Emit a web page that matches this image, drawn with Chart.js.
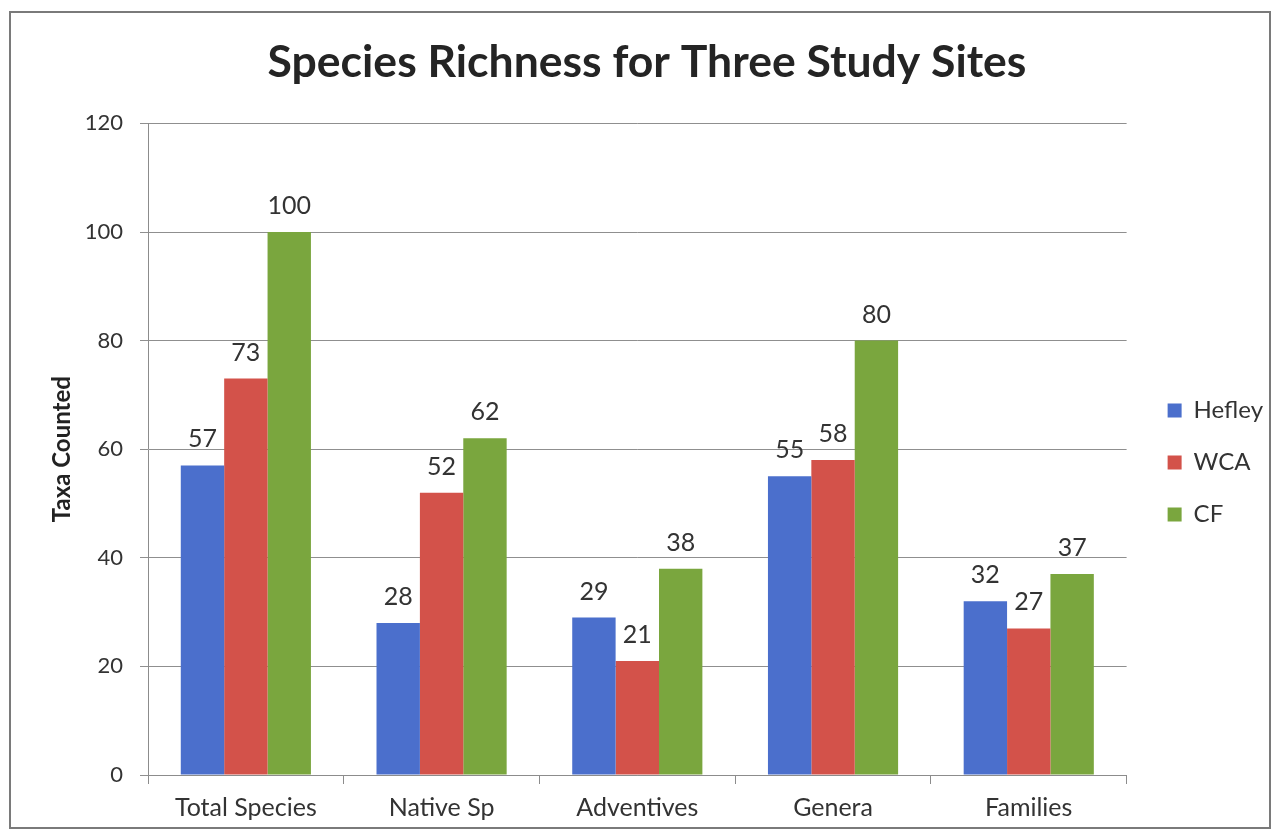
<!DOCTYPE html>
<html>
<head>
<meta charset="utf-8">
<title>Species Richness for Three Study Sites</title>
<script src="https://cdn.jsdelivr.net/npm/chart.js@4.4.1/dist/chart.umd.min.js"></script>
<style>
    html, body { margin: 0; padding: 0; background: #fff; }
    #wrap { position: relative; width: 1276px; height: 836px; }
    #frame { position: absolute; left: 9px; top: 11px; width: 1262px; height: 818px; border: 2px solid #7a7a7a; box-sizing: border-box; pointer-events: none; }
</style>
</head>
<body>
<div id="wrap">
    <canvas id="chart"></canvas>
    <div id="frame"></div>
</div>
<script>
var categories = ['Total Species', 'Native Sp', 'Adventives', 'Genera', 'Families'];
var hefley = [57, 28, 29, 55, 32];
var wca = [73, 52, 21, 58, 27];
var cf = [100, 62, 38, 80, 37];
var yTicks = [0, 20, 40, 60, 80, 100, 120];

var FONT = 'Lato, "Open Sans", sans-serif';

// value printed above each bar
var barLabels = {
    id: 'barLabels',
    afterDatasetsDraw: function (chart) {
        var ctx = chart.ctx;
        ctx.save();
        ctx.font = '25px ' + FONT;
        ctx.fillStyle = '#333';
        ctx.textAlign = 'center';
        ctx.textBaseline = 'alphabetic';
        chart.data.datasets.forEach(function (ds, i) {
            chart.getDatasetMeta(i).data.forEach(function (bar, j) {
                ctx.fillText(ds.data[j], bar.x, bar.y - 18);
            });
        });
        ctx.restore();
    }
};

// shift legend and title a bit from where the layout puts them
var blockNudge = {
    id: 'blockNudge',
    afterLayout: function (chart) {
        var lg = chart.legend;
        lg.left += 13; lg.right += 13;
        lg.top += 44; lg.bottom += 44;
        var tb = chart.titleBlock;
        tb.left += 12; tb.right += 12;
    }
};

var ctx = document.getElementById('chart').getContext('2d');
new Chart(ctx, {
    type: 'bar',
    data: {
        labels: categories,
        datasets: [
            { label: 'Hefley', data: hefley, backgroundColor: '#4b6fcc' },
            { label: 'WCA', data: wca, backgroundColor: '#d3524a' },
            { label: 'CF', data: cf, backgroundColor: '#7aa63e' }
        ]
    },
    options: {
        responsive: true,
        maintainAspectRatio: false,
        animation: false,
        datasets: {
            bar: { categoryPercentage: 0.665, barPercentage: 1.0 }
        },
        layout: { padding: { left: 10, right: 16, top: 12, bottom: 11 } },
        plugins: {
            title: {
                display: true,
                text: 'Species Richness for Three Study Sites',
                color: '#242424',
                font: { family: FONT, size: 44.5, weight: 'bold' },
                padding: { top: 24, bottom: 34 }
            },
            legend: {
                position: 'right',
                labels: {
                    boxWidth: 14,
                    boxHeight: 14,
                    padding: 28,
                    color: '#333',
                    font: { family: FONT, size: 24 }
                }
            },
            tooltip: { enabled: false }
        },
        scales: {
            x: {
                afterFit: function (scale) { scale.height = 50; },
                grid: { offset: true, drawOnChartArea: false, tickLength: 9, color: '#8c8c8c' },
                border: { color: '#8c8c8c' },
                ticks: { color: '#333', padding: 9, font: { family: FONT, size: 25 } }
            },
            y: {
                min: 0,
                max: 120,
                afterBuildTicks: function (scale) {
                    scale.ticks = yTicks.map(function (v) { return { value: v }; });
                },
                afterFit: function (scale) { scale.width = 138; },
                grid: { color: '#8f8f8f', tickLength: 8 },
                border: { color: '#8c8c8c' },
                ticks: { color: '#333', padding: 17, font: { family: FONT, size: 22 } },
                title: {
                    display: true,
                    text: 'Taxa Counted',
                    color: '#222',
                    padding: { top: 38, bottom: 0 },
                    font: { family: FONT, size: 24, weight: 'bold' }
                }
            }
        }
    },
    plugins: [barLabels, blockNudge]
});
</script>
</body>
</html>
